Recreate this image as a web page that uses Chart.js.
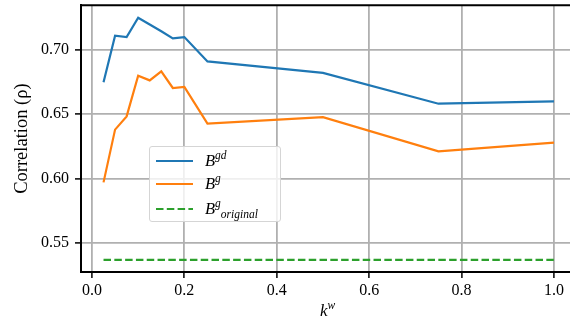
<!DOCTYPE html>
<html>
<head>
<meta charset="utf-8">
<script src="https://cdn.jsdelivr.net/npm/chart.js@4.4.0/dist/chart.umd.min.js"></script>
<style>
html, body { margin: 0; padding: 0; background: #fff; }
#wrap { position: relative; width: 570px; height: 328px; overflow: hidden; }
#legend { position: absolute; left: 149px; top: 146px; width: 132px; height: 76px; box-sizing: border-box;
  border: 1px solid #d5d5d5; border-radius: 3px; background: rgba(255,255,255,0.8);
  font-family: 'Liberation Serif', serif; color: #000; }
#legend .row { position: absolute; left: 6px; height: 20px; display: flex; align-items: center; white-space: nowrap; }
#legend svg { display: block; margin-right: 12px; }
#legend .txt { font-size: 16.5px; line-height: 20px; }
.math i { font-style: italic; }
.math sup { font-size: 11.5px; font-style: italic; vertical-align: 7px; line-height: 0; }
.math sub { font-size: 11.5px; font-style: italic; vertical-align: -4px; line-height: 0; }
#xlabel { position: absolute; top: 301px; transform: translateX(-50%); font-family: 'Liberation Serif', serif;
  font-size: 17px; color: #000; white-space: nowrap; }
</style>
</head>
<body>
<div id="wrap">
  <canvas id="chart" width="570" height="328"></canvas>
  <div id="legend"></div>
  <div id="xlabel" class="math"><i>k</i><sup>w</sup></div>
</div>
<script>
// k^w values
var kw = [0.025, 0.05, 0.075, 0.1, 0.125, 0.15, 0.175, 0.2, 0.25, 0.5, 0.75, 1.0];
// correlation per method
var bgd = [0.6747, 0.7109, 0.7098, 0.7248, 0.7195, 0.7143, 0.7088, 0.7098, 0.6909, 0.6820, 0.6581, 0.6599];
var bg = [0.5971, 0.6380, 0.6483, 0.6798, 0.6762, 0.6832, 0.6703, 0.6711, 0.6427, 0.6477, 0.6212, 0.6280];
var bgOriginal = [0.537, 0.537, 0.537, 0.537, 0.537, 0.537, 0.537, 0.537, 0.537, 0.537, 0.537, 0.537];

var xTicks = [0.0, 0.2, 0.4, 0.6, 0.8, 1.0];
var yTicks = [0.55, 0.60, 0.65, 0.70];

// legend label pieces: base, superscript, subscript
var labelBase = ['B', 'B', 'B'];
var labelSup = ['gd', 'g', 'g'];
var labelSub = ['', '', 'original'];

var serif = "'Liberation Serif', serif";

function points(ys) {
  return ys.map(function(y, i) { return { x: kw[i], y: y }; });
}

var topSpine = {
  id: 'topSpine',
  afterDraw: function(chart) {
    var ca = chart.chartArea, ctx = chart.ctx;
    ctx.save();
    ctx.strokeStyle = '#000';
    ctx.lineWidth = 2;
    ctx.beginPath();
    ctx.moveTo(ca.left - 1, ca.top);
    ctx.lineTo(ca.right + 1, ca.top);
    ctx.stroke();
    ctx.restore();
  }
};

var htmlLegend = {
  id: 'htmlLegend',
  afterRender: function(chart) {
    var ca = chart.chartArea;
    document.getElementById('xlabel').style.left = ((ca.left + ca.right) / 2 + 2) + 'px';
    var box = document.getElementById('legend');
    if (box.childNodes.length) return;
    var rowTops = [3.5, 26.5, 52];
    chart.data.datasets.forEach(function(ds, i) {
      var row = document.createElement('div');
      row.className = 'row';
      row.style.top = rowTops[i] + 'px';
      var dash = ds.borderDash && ds.borderDash.length ? ' stroke-dasharray="' + ds.borderDash.join(' ') + '"' : '';
      row.innerHTML = '<svg width="37" height="6"><line x1="0" y1="3" x2="37" y2="3" stroke="' + ds.borderColor +
        '" stroke-width="' + ds.borderWidth + '"' + dash + '/></svg>' +
        '<span class="txt math"><i>' + labelBase[i] + '</i><sup>' + labelSup[i] + '</sup>' +
        (labelSub[i] ? '<sub>' + labelSub[i] + '</sub>' : '') + '</span>';
      box.appendChild(row);
    });
  }
};

var chart = new Chart(document.getElementById('chart'), {
  type: 'line',
  data: {
    datasets: [
      { label: 'B^gd', data: points(bgd), borderColor: '#1f77b4', borderWidth: 2.2, pointRadius: 0, tension: 0 },
      { label: 'B^g', data: points(bg), borderColor: '#ff7f0e', borderWidth: 2.2, pointRadius: 0, tension: 0 },
      { label: 'B^g_original', data: points(bgOriginal), borderColor: '#2ca02c', borderWidth: 2.2, borderDash: [7.5, 3.3], pointRadius: 0, tension: 0 }
    ]
  },
  options: {
    responsive: false,
    animation: false,
    devicePixelRatio: 1,
    layout: { padding: { top: 5.2, left: 0, right: 0, bottom: 0 } },
    plugins: { legend: { display: false }, tooltip: { enabled: false } },
    scales: {
      x: {
        type: 'linear',
        min: -0.02375,
        max: 1.0347,
        afterBuildTicks: function(scale) { scale.ticks = xTicks.map(function(v) { return { value: v }; }); },
        afterFit: function(scale) { scale.height = 56; scale.paddingLeft = 0; scale.paddingRight = 0; },
        grid: { color: '#b0b0b0', lineWidth: 1.8, tickLength: 6, tickColor: '#000', tickWidth: 1.5 },
        border: { display: true, color: '#000', width: 2 },
        ticks: { font: { family: serif, size: 16 }, color: '#000', padding: 3, maxRotation: 0, autoSkip: false,
          callback: function(v) { return v.toFixed(1); } }
      },
      y: {
        min: 0.5276,
        max: 0.7345,
        afterBuildTicks: function(scale) { scale.ticks = yTicks.map(function(v) { return { value: v }; }); },
        afterFit: function(scale) { scale.width = 81; scale.paddingTop = 0; scale.paddingBottom = 0; },
        grid: { color: '#b0b0b0', lineWidth: 1.8, tickLength: 6, tickColor: '#000', tickWidth: 1.5 },
        border: { display: true, color: '#000', width: 2 },
        ticks: { font: { family: serif, size: 16 }, color: '#000', padding: 6, autoSkip: false,
          callback: function(v) { return v.toFixed(2); } },
        title: { display: true, text: 'Correlation (\u03c1)', font: { family: serif, size: 18.5 }, color: '#000',
          padding: { top: 11, bottom: 0 } }
      }
    }
  },
  plugins: [topSpine, htmlLegend]
});
</script>
</body>
</html>
